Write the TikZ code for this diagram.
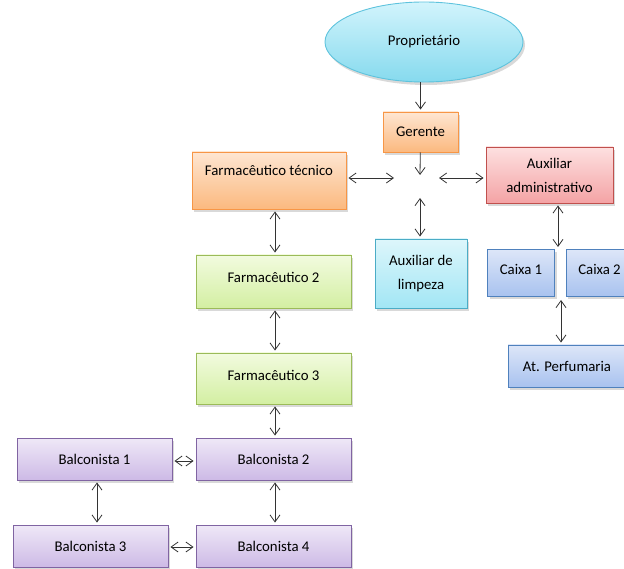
\documentclass[tikz,border=0pt]{standalone}
\usepackage{fontspec}
\setmainfont{Carlito}
\usetikzlibrary{arrows.meta,shapes.geometric,shadows}
\definecolor{cyanA}{HTML}{D2F4FC}\definecolor{cyanB}{HTML}{86DAEE}\definecolor{cyanE}{HTML}{5EC3DD}
\definecolor{orangeA}{HTML}{FEE6D2}\definecolor{orangeB}{HTML}{FBB97F}\definecolor{orangeE}{HTML}{F79646}
\definecolor{redA}{HTML}{FDE0E0}\definecolor{redB}{HTML}{F4A3A5}\definecolor{redE}{HTML}{C0504D}
\definecolor{aquaA}{HTML}{DDF6FB}\definecolor{aquaB}{HTML}{A2E6F5}\definecolor{aquaE}{HTML}{4BACC6}
\definecolor{blueA}{HTML}{DDE6F8}\definecolor{blueB}{HTML}{A8C2EF}\definecolor{blueE}{HTML}{4F81BD}
\definecolor{greenA}{HTML}{F2FBDF}\definecolor{greenB}{HTML}{D3EFA2}\definecolor{greenE}{HTML}{9BBB59}
\definecolor{purpleA}{HTML}{EFE8F7}\definecolor{purpleB}{HTML}{CDBAE6}\definecolor{purpleE}{HTML}{8064A2}

\begin{document}
\begin{tikzpicture}[x=1pt, y=-1pt, >={Straight Barb[length=7pt,width=10pt]},
  box/.style={rectangle, draw, align=center, inner sep=2pt, line width=0.9pt,
    font=\fontsize{14.8}{24}\selectfont,
    drop shadow={shadow xshift=2pt, shadow yshift=-3pt, opacity=0.3}},
  boss/.style={box, ellipse, draw=cyanE, top color=cyanA, bottom color=cyanB},
  orange/.style={box, draw=orangeE, top color=orangeA, bottom color=orangeB},
  red/.style={box, draw=redE, top color=redA, bottom color=redB},
  aqua/.style={box, draw=aquaE, top color=aquaA, bottom color=aquaB},
  blue/.style={box, draw=blueE, top color=blueA, bottom color=blueB},
  green/.style={box, draw=greenE, top color=greenA, bottom color=greenB},
  purple/.style={box, draw=purpleE, top color=purpleA, bottom color=purpleB},
  edge/.style={->, line width=0.8pt, draw=black!80, shorten >=2pt},
  dedge/.style={<->, line width=0.8pt, draw=black!80, shorten >=2pt, shorten <=2pt}
]
\useasboundingbox (0,0) rectangle (624,569);
\node[boss, minimum width=198pt, minimum height=80pt] (n0) at (424,42) {Proprietário};
\node[orange, minimum width=75pt, minimum height=40pt] (n1) at (420.5,132) {Gerente};
\node[orange, minimum width=154pt, minimum height=57pt, text depth=20pt] (n2) at (269,180.5) {Farmacêutico técnico};
\node[red, minimum width=127pt, minimum height=56pt] (n3) at (549.5,175) {Auxiliar\\administrativo};
\node[aqua, minimum width=92pt, minimum height=69pt] (n4) at (421,273.5) {Auxiliar de\\limpeza};
\node[blue, minimum width=67pt, minimum height=47pt, text depth=8pt] (n5) at (521,273) {Caixa 1};
\node[blue, minimum width=67pt, minimum height=47pt, text depth=8pt] (n6) at (599.5,273) {Caixa 2};
\node[blue, minimum width=118pt, minimum height=42pt] (n7) at (567,366) {At. Perfumaria};
\node[green, minimum width=155pt, minimum height=53pt, text depth=8pt] (n8) at (273.5,281.5) {Farmacêutico 2};
\node[green, minimum width=155pt, minimum height=51pt, text depth=6pt] (n9) at (273.5,378.5) {Farmacêutico 3};
\node[purple, minimum width=155pt, minimum height=42pt] (n10) at (94.5,459) {Balconista 1};
\node[purple, minimum width=155pt, minimum height=42pt] (n11) at (273.5,459) {Balconista 2};
\node[purple, minimum width=155pt, minimum height=42pt] (n12) at (90.5,546) {Balconista 3};
\node[purple, minimum width=155pt, minimum height=42pt] (n13) at (273.5,546) {Balconista 4};
\coordinate (hn) at (420,177);
\coordinate (hw) at (396,178);
\coordinate (he) at (437,178);
\coordinate (hs) at (420,196);
\coordinate (cx) at (558,249);
\coordinate (cy) at (561,298);
\draw[edge] (n0.south -| n1) -- (n1);
\draw[edge] (n1) -- (hn);
\draw[dedge] (n2.east |- hw) -- (hw);
\draw[dedge] (he) -- (n3.west |- he);
\draw[dedge] (hs) -- (hs |- n4.north);
\draw[dedge] (n3.south -| cx) -- (cx);
\draw[dedge] (cy) -- (cy |- n7.north);
\draw[dedge] (n2.south -| 275,0) -- (n8.north -| 275,0);
\draw[dedge] (n8.south -| 275,0) -- (n9.north -| 275,0);
\draw[dedge] (n9.south -| 275,0) -- (n11.north -| 275,0);
\draw[dedge] (n10.east |- 0,461) -- (n11.west |- 0,461);
\draw[dedge] (n10.south -| 97,0) -- (n12.north -| 97,0);
\draw[dedge] (n11.south -| 275,0) -- (n13.north -| 275,0);
\draw[dedge] (n12.east |- 0,547) -- (n13.west |- 0,547);
\end{tikzpicture}
\end{document}
